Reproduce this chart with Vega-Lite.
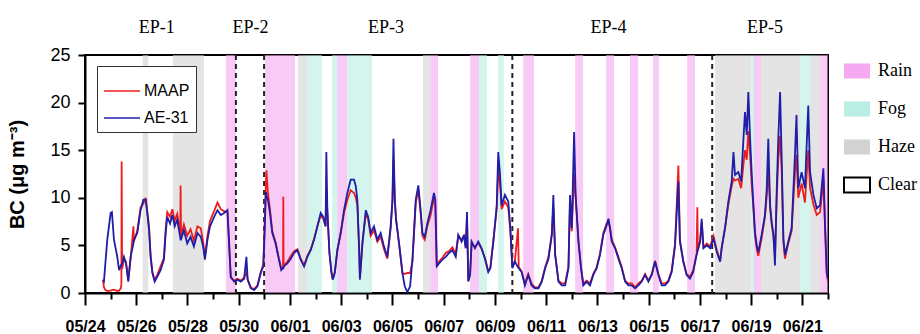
{
"$schema": "https://vega.github.io/schema/vega-lite/v6.json",
"width": 743, "height": 238,
"autosize": "none",
"padding": {"left": 85, "top": 55, "right": 92, "bottom": 41},
"background": "white",
"config": {"view": {"stroke": "black", "strokeWidth": 2}},
"datasets": {
"bc": [
{"d":0.70,"AE31":1.3,"MAAP":1.4},{"d":0.74,"AE31":1.2,"MAAP":0.6},{"d":0.80,"AE31":3.3,"MAAP":0.3},{"d":0.87,"AE31":5.6,"MAAP":0.2},{"d":1.00,"AE31":8.4,"MAAP":0.25},{"d":1.05,"AE31":8.5,"MAAP":0.3},{"d":1.13,"AE31":5.6,"MAAP":0.35},{"d":1.26,"AE31":3.8,"MAAP":0.2},{"d":1.33,"AE31":2.4,"MAAP":0.25},{"d":1.40,"AE31":2.9,"MAAP":0.5},{"d":1.42,"AE31":2.9,"MAAP":1.0},{"d":1.43,"AE31":3.0,"MAAP":13.8},{"d":1.45,"AE31":3.1,"MAAP":2.5},{"d":1.52,"AE31":3.8,"MAAP":3.5},{"d":1.60,"AE31":3.1,"MAAP":3.3},{"d":1.69,"AE31":1.2,"MAAP":1.4},{"d":1.78,"AE31":3.8,"MAAP":3.6},{"d":1.89,"AE31":5.2,"MAAP":7.0},{"d":1.91,"AE31":5.6,"MAAP":5.4},{"d":2.04,"AE31":6.3,"MAAP":6.5},{"d":2.17,"AE31":8.7,"MAAP":9.0},{"d":2.28,"AE31":9.8,"MAAP":9.4},{"d":2.37,"AE31":9.8,"MAAP":10.0},{"d":2.43,"AE31":8.4,"MAAP":8.6},{"d":2.50,"AE31":6.6,"MAAP":7.0},{"d":2.56,"AE31":3.8,"MAAP":4.0},{"d":2.63,"AE31":2.1,"MAAP":2.2},{"d":2.72,"AE31":1.2,"MAAP":1.4},{"d":2.82,"AE31":1.7,"MAAP":1.9},{"d":2.95,"AE31":2.4,"MAAP":2.8},{"d":3.08,"AE31":3.5,"MAAP":3.7},{"d":3.15,"AE31":6.3,"MAAP":6.8},{"d":3.21,"AE31":8.0,"MAAP":8.5},{"d":3.32,"AE31":7.3,"MAAP":8.0},{"d":3.41,"AE31":8.2,"MAAP":8.8},{"d":3.50,"AE31":7.0,"MAAP":7.6},{"d":3.60,"AE31":7.7,"MAAP":8.3},{"d":3.72,"AE31":5.8,"MAAP":6.2},{"d":3.73,"AE31":5.6,"MAAP":11.3},{"d":3.75,"AE31":5.6,"MAAP":6.0},{"d":3.86,"AE31":6.6,"MAAP":7.2},{"d":3.99,"AE31":5.2,"MAAP":6.0},{"d":4.12,"AE31":5.9,"MAAP":6.7},{"d":4.25,"AE31":4.9,"MAAP":5.5},{"d":4.39,"AE31":6.3,"MAAP":7.0},{"d":4.52,"AE31":5.9,"MAAP":6.8},{"d":4.61,"AE31":4.9,"MAAP":5.4},{"d":4.68,"AE31":3.5,"MAAP":3.8},{"d":4.78,"AE31":5.6,"MAAP":6.0},{"d":4.88,"AE31":7.0,"MAAP":7.6},{"d":5.04,"AE31":8.0,"MAAP":8.6},{"d":5.17,"AE31":8.7,"MAAP":9.5},{"d":5.30,"AE31":8.2,"MAAP":8.8},{"d":5.43,"AE31":8.4,"MAAP":8.6},{"d":5.56,"AE31":8.7,"MAAP":8.5},{"d":5.62,"AE31":5.6,"MAAP":5.2},{"d":5.69,"AE31":1.7,"MAAP":1.6},{"d":5.82,"AE31":1.2,"MAAP":1.3},{"d":5.95,"AE31":1.4,"MAAP":1.5},{"d":6.08,"AE31":1.2,"MAAP":1.3},{"d":6.21,"AE31":1.5,"MAAP":1.6},{"d":6.30,"AE31":3.8,"MAAP":2.2},{"d":6.35,"AE31":1.4,"MAAP":1.4},{"d":6.47,"AE31":0.5,"MAAP":0.6},{"d":6.60,"AE31":0.3,"MAAP":0.4},{"d":6.73,"AE31":0.7,"MAAP":0.8},{"d":6.86,"AE31":2.1,"MAAP":2.2},{"d":6.96,"AE31":2.8,"MAAP":3.0},{"d":7.01,"AE31":6.3,"MAAP":7.0},{"d":7.06,"AE31":10.6,"MAAP":11.5},{"d":7.08,"AE31":10.3,"MAAP":12.9},{"d":7.14,"AE31":9.8,"MAAP":10.5},{"d":7.22,"AE31":8.4,"MAAP":8.8},{"d":7.31,"AE31":6.3,"MAAP":6.5},{"d":7.44,"AE31":5.2,"MAAP":5.3},{"d":7.57,"AE31":3.5,"MAAP":3.6},{"d":7.66,"AE31":2.4,"MAAP":2.6},{"d":7.73,"AE31":2.6,"MAAP":2.8},{"d":7.74,"AE31":2.6,"MAAP":10.1},{"d":7.75,"AE31":2.7,"MAAP":2.8},{"d":7.80,"AE31":2.9,"MAAP":3.0},{"d":7.90,"AE31":3.1,"MAAP":3.3},{"d":8.03,"AE31":3.6,"MAAP":3.9},{"d":8.16,"AE31":4.2,"MAAP":4.4},{"d":8.29,"AE31":4.5,"MAAP":4.6},{"d":8.42,"AE31":3.5,"MAAP":3.6},{"d":8.55,"AE31":2.8,"MAAP":2.9},{"d":8.68,"AE31":3.8,"MAAP":3.9},{"d":8.81,"AE31":4.5,"MAAP":4.6},{"d":8.94,"AE31":5.6,"MAAP":5.7},{"d":9.07,"AE31":7.0,"MAAP":7.0},{"d":9.20,"AE31":8.4,"MAAP":8.2},{"d":9.30,"AE31":8.0,"MAAP":7.8},{"d":9.39,"AE31":7.0,"MAAP":7.0},{"d":9.42,"AE31":14.8,"MAAP":10.8},{"d":9.46,"AE31":8.7,"MAAP":8.5},{"d":9.54,"AE31":4.2,"MAAP":4.3},{"d":9.62,"AE31":2.1,"MAAP":2.2},{"d":9.67,"AE31":1.4,"MAAP":1.5},{"d":9.75,"AE31":2.1,"MAAP":2.2},{"d":9.85,"AE31":4.5,"MAAP":4.5},{"d":9.98,"AE31":6.3,"MAAP":6.3},{"d":10.11,"AE31":8.7,"MAAP":8.4},{"d":10.24,"AE31":10.5,"MAAP":9.8},{"d":10.37,"AE31":11.9,"MAAP":10.8},{"d":10.50,"AE31":11.9,"MAAP":10.5},{"d":10.57,"AE31":11.2,"MAAP":10.0},{"d":10.63,"AE31":9.8,"MAAP":9.2},{"d":10.70,"AE31":4.5,"MAAP":4.8},{"d":10.73,"AE31":1.4,"MAAP":1.6},{"d":10.83,"AE31":5.2,"MAAP":5.4},{"d":10.96,"AE31":8.7,"MAAP":8.3},{"d":11.05,"AE31":8.0,"MAAP":7.8},{"d":11.15,"AE31":6.3,"MAAP":6.0},{"d":11.28,"AE31":7.0,"MAAP":6.6},{"d":11.41,"AE31":5.6,"MAAP":5.4},{"d":11.54,"AE31":6.3,"MAAP":5.9},{"d":11.67,"AE31":4.9,"MAAP":4.6},{"d":11.80,"AE31":3.8,"MAAP":3.6},{"d":11.93,"AE31":7.0,"MAAP":6.8},{"d":12.00,"AE31":9.8,"MAAP":9.5},{"d":12.04,"AE31":16.2,"MAAP":14.1},{"d":12.09,"AE31":9.8,"MAAP":10.0},{"d":12.14,"AE31":7.7,"MAAP":7.8},{"d":12.26,"AE31":5.2,"MAAP":5.1},{"d":12.39,"AE31":2.1,"MAAP":2.1},{"d":12.48,"AE31":0.7,"MAAP":2.0},{"d":12.58,"AE31":0.1,"MAAP":2.1},{"d":12.69,"AE31":0.7,"MAAP":2.1},{"d":12.78,"AE31":3.5,"MAAP":3.3},{"d":12.91,"AE31":9.8,"MAAP":9.5},{"d":13.01,"AE31":11.3,"MAAP":10.8},{"d":13.10,"AE31":8.7,"MAAP":8.4},{"d":13.17,"AE31":6.3,"MAAP":6.0},{"d":13.26,"AE31":5.9,"MAAP":5.6},{"d":13.36,"AE31":7.3,"MAAP":7.0},{"d":13.49,"AE31":8.7,"MAAP":8.2},{"d":13.62,"AE31":10.5,"MAAP":10.0},{"d":13.67,"AE31":9.8,"MAAP":9.8},{"d":13.73,"AE31":2.8,"MAAP":2.8},{"d":13.82,"AE31":3.1,"MAAP":3.3},{"d":13.95,"AE31":3.5,"MAAP":3.7},{"d":14.08,"AE31":3.8,"MAAP":4.2},{"d":14.21,"AE31":4.2,"MAAP":4.4},{"d":14.34,"AE31":4.5,"MAAP":4.8},{"d":14.47,"AE31":3.8,"MAAP":4.1},{"d":14.57,"AE31":6.1,"MAAP":6.0},{"d":14.70,"AE31":5.4,"MAAP":5.6},{"d":14.79,"AE31":6.1,"MAAP":6.0},{"d":14.86,"AE31":4.7,"MAAP":4.8},{"d":14.91,"AE31":8.5,"MAAP":8.0},{"d":14.96,"AE31":1.2,"MAAP":1.3},{"d":15.03,"AE31":1.9,"MAAP":2.0},{"d":15.09,"AE31":5.4,"MAAP":5.2},{"d":15.22,"AE31":4.7,"MAAP":4.8},{"d":15.35,"AE31":5.4,"MAAP":5.3},{"d":15.48,"AE31":4.7,"MAAP":4.6},{"d":15.61,"AE31":3.6,"MAAP":3.7},{"d":15.74,"AE31":2.2,"MAAP":2.3},{"d":15.82,"AE31":2.6,"MAAP":2.6},{"d":15.94,"AE31":5.4,"MAAP":5.6},{"d":16.07,"AE31":9.2,"MAAP":8.8},{"d":16.13,"AE31":14.8,"MAAP":13.0},{"d":16.20,"AE31":12.4,"MAAP":11.5},{"d":16.26,"AE31":9.2,"MAAP":8.8},{"d":16.39,"AE31":10.3,"MAAP":9.6},{"d":16.52,"AE31":9.6,"MAAP":9.0},{"d":16.60,"AE31":6.8,"MAAP":6.6},{"d":16.68,"AE31":2.6,"MAAP":2.8},{"d":16.78,"AE31":3.3,"MAAP":3.4},{"d":16.90,"AE31":2.7,"MAAP":6.8},{"d":16.93,"AE31":2.6,"MAAP":2.7},{"d":17.04,"AE31":2.2,"MAAP":2.3},{"d":17.17,"AE31":0.8,"MAAP":1.0},{"d":17.30,"AE31":1.9,"MAAP":2.0},{"d":17.43,"AE31":0.8,"MAAP":1.0},{"d":17.56,"AE31":0.5,"MAAP":0.6},{"d":17.70,"AE31":0.5,"MAAP":0.6},{"d":17.83,"AE31":1.2,"MAAP":1.3},{"d":17.96,"AE31":2.6,"MAAP":2.7},{"d":18.09,"AE31":3.6,"MAAP":3.8},{"d":18.22,"AE31":6.1,"MAAP":6.2},{"d":18.28,"AE31":10.3,"MAAP":9.0},{"d":18.35,"AE31":4.0,"MAAP":4.1},{"d":18.48,"AE31":1.2,"MAAP":1.3},{"d":18.61,"AE31":0.8,"MAAP":1.0},{"d":18.74,"AE31":0.8,"MAAP":1.0},{"d":18.87,"AE31":2.6,"MAAP":2.8},{"d":18.93,"AE31":10.3,"MAAP":9.5},{"d":19.00,"AE31":6.8,"MAAP":6.5},{"d":19.09,"AE31":16.9,"MAAP":12.5},{"d":19.15,"AE31":10.3,"MAAP":10.0},{"d":19.26,"AE31":5.4,"MAAP":5.5},{"d":19.36,"AE31":2.6,"MAAP":2.7},{"d":19.45,"AE31":0.8,"MAAP":1.0},{"d":19.58,"AE31":1.2,"MAAP":1.3},{"d":19.71,"AE31":0.8,"MAAP":1.0},{"d":19.84,"AE31":1.9,"MAAP":2.0},{"d":19.97,"AE31":2.6,"MAAP":2.7},{"d":20.10,"AE31":4.0,"MAAP":4.1},{"d":20.23,"AE31":6.1,"MAAP":6.3},{"d":20.36,"AE31":7.1,"MAAP":7.3},{"d":20.43,"AE31":7.8,"MAAP":7.6},{"d":20.49,"AE31":6.8,"MAAP":6.9},{"d":20.56,"AE31":5.4,"MAAP":5.6},{"d":20.69,"AE31":4.7,"MAAP":4.8},{"d":20.82,"AE31":3.6,"MAAP":3.8},{"d":20.95,"AE31":2.6,"MAAP":2.7},{"d":21.08,"AE31":1.2,"MAAP":1.3},{"d":21.21,"AE31":0.8,"MAAP":1.0},{"d":21.34,"AE31":0.8,"MAAP":1.0},{"d":21.47,"AE31":0.5,"MAAP":0.6},{"d":21.60,"AE31":0.8,"MAAP":1.0},{"d":21.73,"AE31":1.2,"MAAP":1.3},{"d":21.86,"AE31":1.9,"MAAP":2.0},{"d":21.99,"AE31":1.2,"MAAP":1.3},{"d":22.12,"AE31":1.9,"MAAP":2.0},{"d":22.25,"AE31":3.3,"MAAP":3.4},{"d":22.38,"AE31":1.9,"MAAP":2.0},{"d":22.51,"AE31":0.8,"MAAP":1.0},{"d":22.64,"AE31":0.8,"MAAP":1.0},{"d":22.77,"AE31":1.2,"MAAP":1.3},{"d":22.90,"AE31":2.2,"MAAP":2.4},{"d":23.03,"AE31":5.0,"MAAP":5.2},{"d":23.16,"AE31":11.7,"MAAP":13.4},{"d":23.22,"AE31":5.4,"MAAP":5.6},{"d":23.35,"AE31":3.3,"MAAP":3.4},{"d":23.48,"AE31":1.9,"MAAP":2.0},{"d":23.61,"AE31":1.5,"MAAP":1.7},{"d":23.74,"AE31":2.2,"MAAP":2.4},{"d":23.87,"AE31":4.0,"MAAP":4.1},{"d":23.90,"AE31":4.3,"MAAP":9.0},{"d":23.92,"AE31":4.5,"MAAP":4.6},{"d":24.01,"AE31":5.4,"MAAP":5.5},{"d":24.07,"AE31":7.8,"MAAP":7.5},{"d":24.14,"AE31":4.7,"MAAP":4.8},{"d":24.27,"AE31":5.0,"MAAP":5.2},{"d":24.40,"AE31":4.7,"MAAP":4.9},{"d":24.53,"AE31":5.7,"MAAP":6.0},{"d":24.66,"AE31":4.3,"MAAP":4.5},{"d":24.79,"AE31":3.3,"MAAP":3.4},{"d":24.85,"AE31":4.7,"MAAP":4.8},{"d":24.98,"AE31":6.8,"MAAP":6.8},{"d":25.11,"AE31":9.6,"MAAP":9.3},{"d":25.24,"AE31":11.7,"MAAP":11.2},{"d":25.31,"AE31":14.8,"MAAP":12.0},{"d":25.37,"AE31":12.4,"MAAP":11.8},{"d":25.50,"AE31":12.7,"MAAP":12.0},{"d":25.61,"AE31":11.7,"MAAP":11.0},{"d":25.70,"AE31":16.2,"MAAP":13.5},{"d":25.76,"AE31":19.0,"MAAP":15.0},{"d":25.83,"AE31":16.6,"MAAP":14.0},{"d":25.89,"AE31":21.1,"MAAP":17.0},{"d":25.96,"AE31":16.2,"MAAP":14.5},{"d":26.02,"AE31":12.7,"MAAP":11.5},{"d":26.09,"AE31":9.2,"MAAP":8.8},{"d":26.15,"AE31":6.4,"MAAP":6.0},{"d":26.22,"AE31":5.0,"MAAP":4.6},{"d":26.28,"AE31":4.3,"MAAP":3.9},{"d":26.41,"AE31":6.1,"MAAP":5.8},{"d":26.54,"AE31":8.2,"MAAP":8.0},{"d":26.61,"AE31":11.0,"MAAP":10.2},{"d":26.67,"AE31":16.2,"MAAP":13.0},{"d":26.74,"AE31":9.2,"MAAP":9.0},{"d":26.80,"AE31":7.5,"MAAP":7.2},{"d":26.87,"AE31":6.1,"MAAP":6.0},{"d":26.93,"AE31":2.9,"MAAP":4.0},{"d":27.00,"AE31":11.0,"MAAP":10.0},{"d":27.06,"AE31":16.2,"MAAP":14.0},{"d":27.13,"AE31":21.1,"MAAP":16.5},{"d":27.19,"AE31":14.5,"MAAP":13.0},{"d":27.26,"AE31":5.7,"MAAP":5.3},{"d":27.32,"AE31":4.0,"MAAP":3.6},{"d":27.45,"AE31":5.4,"MAAP":5.2},{"d":27.58,"AE31":6.8,"MAAP":6.5},{"d":27.71,"AE31":14.5,"MAAP":12.5},{"d":27.77,"AE31":18.7,"MAAP":14.5},{"d":27.84,"AE31":11.0,"MAAP":10.0},{"d":27.97,"AE31":12.7,"MAAP":11.5},{"d":28.10,"AE31":11.0,"MAAP":9.5},{"d":28.23,"AE31":19.7,"MAAP":15.0},{"d":28.30,"AE31":12.7,"MAAP":11.0},{"d":28.43,"AE31":10.3,"MAAP":9.3},{"d":28.56,"AE31":8.9,"MAAP":8.2},{"d":28.69,"AE31":9.2,"MAAP":8.5},{"d":28.75,"AE31":11.0,"MAAP":10.0},{"d":28.82,"AE31":13.1,"MAAP":12.0},{"d":28.88,"AE31":7.5,"MAAP":7.3},{"d":28.95,"AE31":2.2,"MAAP":2.0},{"d":29.00,"AE31":1.5,"MAAP":1.2}
],
"bands": [
{"d":2.25,"d2":2.47,"w":"Haze"},{"d":3.43,"d2":4.64,"w":"Haze"},{"d":5.50,"d2":5.89,"w":"Rain"},{"d":7.03,"d2":8.20,"w":"Rain"},{"d":8.31,"d2":8.67,"w":"Haze"},{"d":8.67,"d2":9.25,"w":"Fog"},{"d":9.64,"d2":9.84,"w":"Fog"},{"d":9.84,"d2":10.23,"w":"Rain"},{"d":10.23,"d2":11.20,"w":"Fog"},{"d":13.19,"d2":13.47,"w":"Haze"},{"d":13.47,"d2":13.78,"w":"Rain"},{"d":15.03,"d2":15.38,"w":"Rain"},{"d":15.38,"d2":15.69,"w":"Fog"},{"d":16.12,"d2":16.35,"w":"Fog"},{"d":17.10,"d2":17.52,"w":"Rain"},{"d":19.13,"d2":19.44,"w":"Rain"},{"d":20.34,"d2":20.65,"w":"Rain"},{"d":21.27,"d2":21.59,"w":"Rain"},{"d":22.17,"d2":22.40,"w":"Rain"},{"d":23.50,"d2":23.81,"w":"Rain"},{"d":24.59,"d2":26.00,"w":"Haze"},{"d":26.00,"d2":26.11,"w":"Fog"},{"d":26.11,"d2":26.39,"w":"Rain"},{"d":26.39,"d2":27.91,"w":"Haze"},{"d":27.91,"d2":28.30,"w":"Fog"},{"d":28.30,"d2":28.69,"w":"Haze"},{"d":28.69,"d2":29.0,"w":"Rain"}
],
"dash": [{"d":5.89},{"d":6.99},{"d":16.68},{"d":24.48}],
"eps": [{"d":2.80,"v":27.85,"t":"EP-1"},{"d":6.46,"v":27.85,"t":"EP-2"},{"d":11.75,"v":27.85,"t":"EP-3"},{"d":20.43,"v":27.85,"t":"EP-4"},{"d":26.54,"v":27.85,"t":"EP-5"}]
},
"encoding": {
"x": {"field": "d", "type": "quantitative",
 "scale": {"domain": [0, 29], "nice": false, "zero": false},
 "axis": {"title": null, "grid": false,
  "values": [0,1,2,3,4,5,6,7,8,9,10,11,12,13,14,15,16,17,18,19,20,21,22,23,24,25,26,27,28,29],
  "labelExpr": "datum.value % 2 == 0 ? timeFormat(datetime(2019, 4, 24 + datum.value), '%m/%d') : ''",
  "tickSize": {"condition": {"test": "datum.value % 2 == 0", "value": 12}, "value": 6},
  "tickWidth": 2, "tickColor": "black", "domainColor": "black", "domainWidth": 2,
  "labelFont": "Liberation Sans", "labelFontWeight": "bold", "labelFontSize": 16, "labelColor": "black",
  "labelPadding": 13, "labelFlush": false, "labelOverlap": false}}
},
"layer": [
{"data": {"name": "bands"},
 "mark": {"type": "rect", "opacity": 0.6},
 "encoding": {
  "x2": {"field": "d2"},
  "fill": {"field": "w", "type": "nominal",
   "scale": {"domain": ["Rain", "Fog", "Haze", "Clear"], "range": ["#f4a9f0", "#b8efe2", "#d2d2d2", "#ffffff"]},
   "legend": {"title": null, "orient": "none", "legendX": 758, "legendY": 2, "padding": 0,
    "symbolType": "M-1,-0.58L1,-0.58L1,0.58L-1,0.58Z", "symbolSize": 676, "symbolOpacity": 1,
    "labelFont": "Liberation Serif", "labelFontSize": 18, "labelColor": "black", "labelOffset": 7, "rowPadding": 12,
    "encode": {"labels": {"update": {"font": {"value": "Liberation Serif"}}},
     "symbols": {"update": {"stroke": {"signal": "datum.value === 'Clear' ? 'black' : 'transparent'"}, "strokeWidth": {"value": 2}}}}}}
 }},
{"data": {"name": "dash"},
 "mark": {"type": "rule", "strokeDash": [5, 4], "strokeWidth": 2, "color": "#222"},
 "encoding": {}},
{"data": {"name": "bc"},
 "transform": [{"fold": ["MAAP", "AE31"], "as": ["k", "v"]}],
 "mark": {"type": "line", "strokeWidth": 1.8, "clip": true},
 "encoding": {
  "y": {"field": "v", "type": "quantitative",
   "scale": {"domain": [0, 25], "nice": false, "zero": true},
   "axis": {"title": "BC (μg m⁻³)", "values": [0, 5, 10, 15, 20, 25], "grid": false,
    "tickSize": 7, "tickWidth": 2, "tickColor": "black", "domainColor": "black", "domainWidth": 2,
    "labelFont": "Liberation Sans", "labelFontSize": 18, "labelColor": "black", "labelPadding": 8,
    "titleFont": "Liberation Sans", "titleFontWeight": "bold", "titleFontSize": 20, "titleColor": "black", "titlePadding": 22}},
  "stroke": {"field": "k", "type": "nominal",
   "scale": {"domain": ["MAAP", "AE31"], "range": ["#f01c1c", "#1e1ea8"]},
   "legend": {"title": null, "orient": "none", "legendX": 12, "legendY": 11, "padding": 6,
    "strokeColor": "#333", "fillColor": "white", "symbolType": "stroke", "symbolSize": 1296, "symbolStrokeWidth": 1.5,
    "labelFont": "Liberation Sans", "labelFontSize": 16, "labelColor": "black", "labelOffset": 3, "rowPadding": -8,
    "labelExpr": "datum.label == 'AE31' ? 'AE-31' : datum.label"}}
 }},
{"data": {"name": "eps"},
 "mark": {"type": "text", "font": "Liberation Serif", "fontSize": 18, "color": "black", "baseline": "middle"},
 "encoding": {
  "y": {"field": "v", "type": "quantitative",
   "scale": {"domain": [0, 25], "nice": false, "zero": true},
   "axis": {"title": "BC (μg m⁻³)", "values": [0, 5, 10, 15, 20, 25], "grid": false,
    "tickSize": 7, "tickWidth": 2, "tickColor": "black", "domainColor": "black", "domainWidth": 2,
    "labelFont": "Liberation Sans", "labelFontSize": 18, "labelColor": "black", "labelPadding": 8,
    "titleFont": "Liberation Sans", "titleFontWeight": "bold", "titleFontSize": 20, "titleColor": "black", "titlePadding": 22}},
  "text": {"field": "t"}
 }}
]
}
